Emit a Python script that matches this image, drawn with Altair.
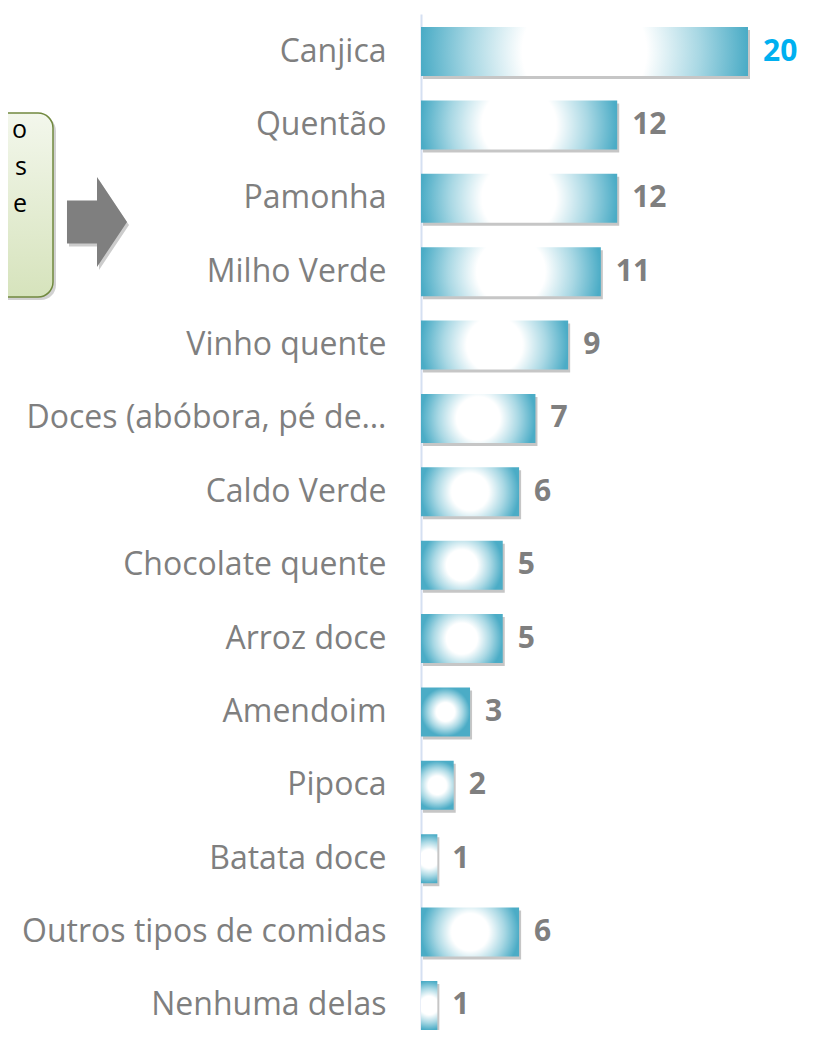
import altair as alt
import pandas as pd

categories = [
    "Canjica", "Quentão", "Pamonha", "Milho Verde", "Vinho quente",
    "Doces (abóbora, pé de…", "Caldo Verde", "Chocolate quente", "Arroz doce",
    "Amendoim", "Pipoca", "Batata doce", "Outros tipos de comidas", "Nenhuma delas",
]
values = [20, 12, 12, 11, 9, 7, 6, 5, 5, 3, 2, 1, 6, 1]
callout_fragments = ["o", "s", "e"]

df = pd.DataFrame({"item": categories, "value": values})
one = pd.DataFrame({"k": [0]})

FONT = "Open Sans"
TEAL = "#4BACC6"
GRAY = "#7F7F7F"

y_enc = alt.Y(
    "item:N",
    sort=categories,
    scale=alt.Scale(paddingInner=0.332, paddingOuter=0.089, align=1),
    axis=alt.Axis(
        title=None,
        ticks=False,
        labelFont=FONT,
        labelFontSize=32,
        labelColor=GRAY,
        labelPadding=35,
        labelLimit=600,
        domainColor="#D5E0F2",
        domainWidth=2,
        grid=False,
    ),
)
x_enc = alt.X("value:Q", scale=alt.Scale(domain=[0, 20], nice=False, zero=True), axis=None)

bar_gradient = alt.Gradient(
    gradient="radial",
    x1=0.5, y1=0.5, r1=0,
    x2=0.5, y2=0.5, r2=0.5,
    stops=[
        alt.GradientStop(color="#FFFFFF", offset=0),
        alt.GradientStop(color="#FFFFFF", offset=0.38),
        alt.GradientStop(color="#A9D8E4", offset=0.7),
        alt.GradientStop(color=TEAL, offset=1),
    ],
)

base = alt.Chart(df)

shadow = base.mark_bar(color="#808080", opacity=0.45, xOffset=2, yOffset=3).encode(x=x_enc, y=y_enc)
bars = base.mark_bar(color=bar_gradient).encode(x=x_enc, y=y_enc)
labels = base.mark_text(
    align="left", baseline="middle", dx=15, font=FONT, fontSize=30, fontWeight="bold"
).encode(
    x=x_enc,
    y=y_enc,
    text="value:Q",
    color=alt.condition(alt.datum.item == "Canjica", alt.value("#00B0F0"), alt.value(GRAY)),
)

# callout box (partly outside the page on the left) and arrow
box_shadow = alt.Chart(one).mark_rect(
    color="#000000", opacity=0.18, cornerRadius=15
).encode(x=alt.value(-440), x2=alt.value(-365), y=alt.value(102), y2=alt.value(286))

box_fill = alt.Gradient(
    gradient="linear", x1=0, x2=0, y1=0, y2=1,
    stops=[
        alt.GradientStop(color="#F3F7EC", offset=0),
        alt.GradientStop(color="#D6E3BC", offset=1),
    ],
)
box = alt.Chart(one).mark_rect(
    fill=box_fill, stroke="#71893F", strokeWidth=1.5, cornerRadius=15
).encode(x=alt.value(-440), x2=alt.value(-368), y=alt.value(99), y2=alt.value(283))

text_layers = []
for i, frag in enumerate(callout_fragments):
    text_layers.append(
        alt.Chart(one).mark_text(
            text=frag, align="right", baseline="alphabetic",
            font=FONT, fontSize=25, color="#000000",
        ).encode(x=alt.value(-394), y=alt.value(124 + 37 * i))
    )

arrow_path = "M -0.667 -0.478 L 0 -0.478 L 0 -1 L 0.667 0 L 0 1 L 0 0.478 L -0.667 0.478 Z"
arrow_shadow = alt.Chart(one).mark_point(
    shape=arrow_path, filled=True, size=8100, color="#000000", opacity=0.2, strokeWidth=0
).encode(x=alt.value(-322), y=alt.value(211))
arrow = alt.Chart(one).mark_point(
    shape=arrow_path, filled=True, size=8100, color=GRAY, opacity=1, strokeWidth=0
).encode(x=alt.value(-324), y=alt.value(208))

chart = alt.layer(
    box_shadow, box, *text_layers, arrow_shadow, arrow, shadow, bars, labels
).properties(
    width=327,
    height=1016,
    padding={"left": 413, "top": 6, "right": 62, "bottom": 0},
    autosize=alt.AutoSizeParams(type="none"),
    background="white",
).configure_view(stroke=None)

chart.save("out.html", embed_options={"renderer": "svg", "actions": False})
